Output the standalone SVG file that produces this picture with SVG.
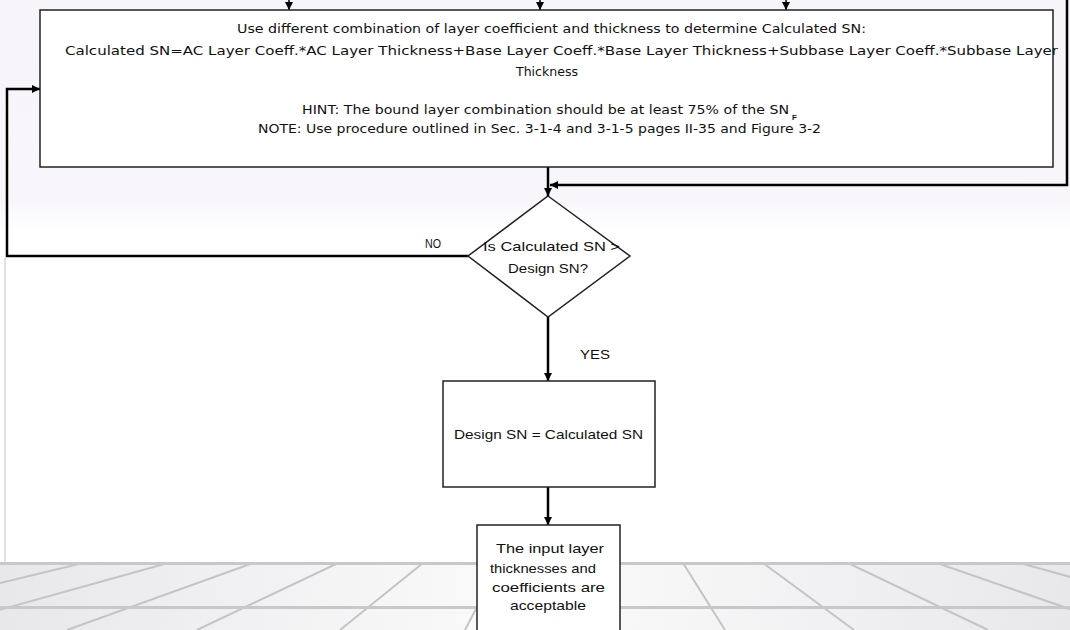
<svg xmlns="http://www.w3.org/2000/svg" width="1070" height="630" viewBox="0 0 1070 630">
  <defs>
    <linearGradient id="skyFade" x1="0" y1="0" x2="0" y2="1">
      <stop offset="0" stop-color="#f7f5f9"/>
      <stop offset="0.86" stop-color="#f8f6fa"/>
      <stop offset="1" stop-color="#ffffff"/>
    </linearGradient>
    <linearGradient id="floorFill" x1="0" y1="0" x2="1" y2="0">
      <stop offset="0" stop-color="#e8e8ea"/>
      <stop offset="0.5" stop-color="#fbfbfc"/>
      <stop offset="1" stop-color="#e8e8ea"/>
    </linearGradient>
    <clipPath id="floorClip">
      <rect x="0" y="563" width="1070" height="67"/>
    </clipPath>
    <marker id="arrow" viewBox="0 0 10 10" refX="10" refY="5" markerWidth="9" markerHeight="8" markerUnits="userSpaceOnUse" orient="auto">
      <path d="M0,0 L10,5 L0,10 z" fill="#000"/>
    </marker>
  </defs>
  <style>
    .box { fill: #ffffff; stroke: #222222; stroke-width: 1.5; }
    .wire { fill: none; stroke: #000000; stroke-width: 2.5; }
    .thin { fill: none; stroke: #000000; stroke-width: 1.5; }
    .txt { font-family: "DejaVu Sans", "Liberation Sans", sans-serif; font-size: 12px; fill: #111111; }
    .sm { font-family: "Liberation Sans", Arial, sans-serif; font-size: 13px; fill: #111111; }
    .sub { font-family: "Liberation Sans", Arial, sans-serif; font-size: 8px; font-weight: bold; fill: #111111; }
    .grid { stroke: #c4c4c7; stroke-width: 2; fill: none; }
    .band { fill: #c8c8cb; }
  </style>

  <!-- backdrop -->
  <rect x="0" y="0" width="1070" height="630" fill="#ffffff"/>
  <rect x="0" y="0" width="1070" height="232" fill="url(#skyFade)"/>
  <line x1="5" y1="258" x2="5" y2="563" stroke="#e2e2e4" stroke-width="2"/>

  <!-- floor -->
  <g id="floor">
    <rect x="0" y="563" width="1070" height="67" fill="url(#floorFill)"/>
    <g clip-path="url(#floorClip)" class="grid">
      <line x1="83" y1="563" x2="0" y2="583"/>
      <line x1="168" y1="563" x2="-73" y2="630"/>
      <line x1="253" y1="563" x2="67" y2="630"/>
      <line x1="338" y1="563" x2="197" y2="630"/>
      <line x1="423" y1="563" x2="340" y2="630"/>
      <line x1="500" y1="563" x2="465" y2="630"/>
      <line x1="683" y1="563" x2="725" y2="630"/>
      <line x1="763" y1="563" x2="854" y2="630"/>
      <line x1="848" y1="563" x2="988" y2="630"/>
      <line x1="937" y1="563" x2="1130" y2="630"/>
      <line x1="1020" y1="563" x2="1261" y2="630"/>
    </g>
    <rect class="band" x="0" y="562" width="1070" height="3"/>
    <rect class="band" x="0" y="606" width="1070" height="3"/>
  </g>

  <!-- connectors -->
  <g id="connectors">
    <line class="thin" x1="289" y1="-2" x2="289" y2="10" marker-end="url(#arrow)"/>
    <line class="thin" x1="540" y1="-2" x2="540" y2="10" marker-end="url(#arrow)"/>
    <line class="thin" x1="786" y1="-2" x2="786" y2="10" marker-end="url(#arrow)"/>
    <path class="wire" d="M468,256 L7,256 L7,89 L40,89" marker-end="url(#arrow)"/>
    <path class="wire" d="M1067,-2 L1067,185 L550,185" marker-end="url(#arrow)"/>
    <line class="wire" x1="548" y1="167" x2="548" y2="196" marker-end="url(#arrow)"/>
    <line class="wire" x1="548" y1="317" x2="548" y2="381" marker-end="url(#arrow)"/>
    <line class="wire" x1="548" y1="487" x2="548" y2="525" marker-end="url(#arrow)"/>
  </g>

  <!-- layer combination step -->
  <g id="combine">
    <rect class="box" x="40" y="10" width="1013" height="157"/>
    <text class="txt" x="237" y="33" textLength="629" lengthAdjust="spacingAndGlyphs">Use different combination of layer coefficient and thickness to determine Calculated SN:</text>
    <text class="txt" x="65" y="55" textLength="993" lengthAdjust="spacingAndGlyphs">Calculated SN=AC Layer Coeff.*AC Layer Thickness+Base Layer Coeff.*Base Layer Thickness+Subbase Layer Coeff.*Subbase Layer</text>
    <text class="txt" x="516" y="76" textLength="62" lengthAdjust="spacingAndGlyphs">Thickness</text>
    <text class="txt" x="302" y="114" textLength="487" lengthAdjust="spacingAndGlyphs">HINT: The bound layer combination should be at least 75% of the SN</text>
    <text class="sub" x="792" y="120">F</text>
    <text class="txt" x="258" y="133" textLength="563" lengthAdjust="spacingAndGlyphs">NOTE: Use procedure outlined in Sec. 3-1-4 and 3-1-5 pages II-35 and Figure 3-2</text>
  </g>

  <!-- decision -->
  <g id="decision">
    <polygon class="box" points="548,196 630,256 548,317 468,256"/>
    <text class="sm" x="483" y="251" textLength="137" lengthAdjust="spacingAndGlyphs">Is Calculated SN &gt;</text>
    <text class="sm" x="508" y="273" textLength="80" lengthAdjust="spacingAndGlyphs">Design SN?</text>
  </g>
  <text id="label-no" class="sm" x="425" y="248" textLength="16" lengthAdjust="spacingAndGlyphs">NO</text>
  <text id="label-yes" class="sm" x="580" y="359" textLength="30" lengthAdjust="spacingAndGlyphs">YES</text>

  <!-- assignment step -->
  <g id="assign">
    <rect class="box" x="443" y="381" width="212" height="106"/>
    <text class="sm" x="454" y="439" textLength="189" lengthAdjust="spacingAndGlyphs">Design SN = Calculated SN</text>
  </g>

  <!-- result -->
  <g id="accept">
    <rect class="box" x="477" y="525" width="143" height="110"/>
    <text class="sm" x="496" y="553" textLength="108" lengthAdjust="spacingAndGlyphs">The input layer</text>
    <text class="sm" x="490" y="573" textLength="106" lengthAdjust="spacingAndGlyphs">thicknesses and</text>
    <text class="sm" x="492" y="592" textLength="113" lengthAdjust="spacingAndGlyphs">coefficients are</text>
    <text class="sm" x="510" y="610" textLength="76" lengthAdjust="spacingAndGlyphs">acceptable</text>
  </g>
</svg>
